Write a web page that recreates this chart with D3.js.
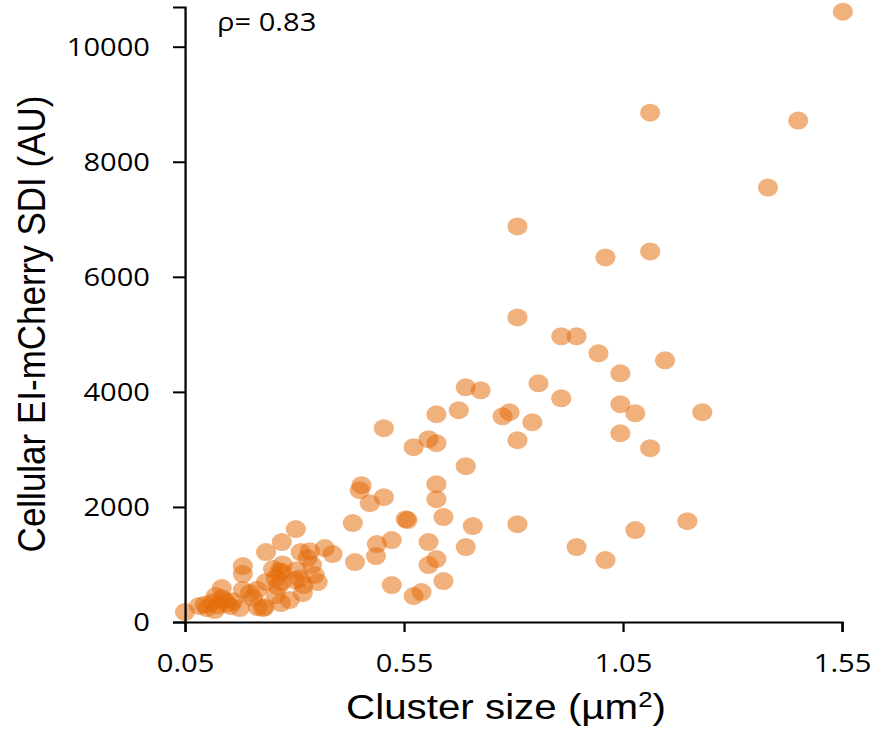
<!DOCTYPE html>
<html>
<head>
<meta charset="utf-8">
<script src="https://cdnjs.cloudflare.com/ajax/libs/d3/7.8.5/d3.min.js"></script>
<style>
  body { margin: 0; background: #fff; }
  svg { display: block; }
</style>
</head>
<body>
<div id="chart"></div>
<script>
// cluster size (um^2) and cellular EI-mCherry SDI (AU)
var clusterSize = [
  0.050, 0.082, 0.100, 0.118, 0.134, 0.134, 0.153, 0.182, 0.182, 0.182,
  0.198, 0.216, 0.235, 0.232, 0.251, 0.257, 0.257, 0.269, 0.271, 0.271,
  0.271, 0.289, 0.303, 0.314, 0.321, 0.330, 0.340, 0.346, 0.353, 0.369,
  0.387, 0.228, 0.175, 0.301, 0.319, 0.235,
  0.095, 0.112, 0.125, 0.140, 0.145, 0.160, 0.205, 0.215, 0.262, 0.266,
  0.273, 0.305, 0.312, 0.335, 0.120,
  0.433, 0.438, 0.449, 0.453, 0.472, 0.504, 0.504, 0.488, 0.486, 0.522,
  0.554, 0.558, 0.522, 0.572, 0.590, 0.572, 0.606, 0.624, 0.624, 0.624,
  0.624, 0.606, 0.606, 0.624, 0.640, 0.640, 0.675, 0.691, 0.691, 0.725,
  0.691, 0.707, 0.775, 0.791, 0.809, 0.809, 0.843, 0.857, 0.909, 0.909,
  0.944, 0.994, 1.044, 1.044, 1.078, 1.044, 1.112, 1.146, 1.231, 1.197,
  1.078, 0.944, 1.010, 0.809, 0.809, 1.010, 1.112, 1.112, 1.450, 1.381,
  1.552
];
var sdi = [
  174, 278, 243, 208, 590, 417, 278, 972, 833, 556,
  503, 260, 1215, 260, 920, 764, 469, 330, 1389, 868,
  694, 382, 1615, 1215, 642, 1111, 990, 816, 694, 1285,
  1180, 243, 243, 729, 503, 694,
  300, 340, 290, 380, 320, 360, 420, 560, 620, 880,
  1000, 900, 760, 1230, 450,
  1719, 1042, 2292, 2378, 2066, 2170, 3368, 1354, 1146, 1424,
  1788, 1771, 642, 451, 521, 3038, 3177, 3108, 3611, 2396,
  2135, 1389, 990, 1094, 1823, 712, 3681, 2708, 4080, 4028,
  1302, 1667, 3576, 3646, 3160, 1701, 3472, 4149, 3889, 4965,
  4965, 4670, 4323, 3785, 3628, 3281, 3021, 4549, 3646, 1753,
  1597, 1302, 1076, 6875, 5295, 6337, 6441, 8854, 8715, 7552,
  10608
];
var xTicks = [0.05, 0.55, 1.05, 1.55];
var yTicks = [0, 2000, 4000, 6000, 8000, 10000];
var rho = "ρ= 0.83";

var width = 876, height = 732;
var sx = 1.12; // the original figure is stretched sideways

var svg = d3.select("#chart").append("svg")
  .attr("width", width)
  .attr("height", height);

var g = svg.append("g").attr("transform", "scale(" + sx + ",1)");

var x = d3.scaleLinear().domain([0.05, 1.55]).range([185 / sx, 842 / sx]);
var y = d3.scaleLinear().domain([0, 10690]).range([622, 7]);

var points = clusterSize.map(function(d, i){ return {x: d, y: sdi[i]}; });

g.append("g")
  .selectAll("circle")
  .data(points)
  .enter()
  .append("circle")
  .attr("cx", function(d){ return x(d.x); })
  .attr("cy", function(d){ return y(d.y); })
  .attr("r", 9)
  .attr("fill", "#e46c0a")
  .attr("fill-opacity", 0.53);

var xAxis = g.append("g")
  .attr("transform", "translate(0,622)")
  .call(d3.axisBottom(x).tickValues(xTicks).tickFormat(d3.format(".2f"))
    .tickSizeOuter(0).tickSize(10).tickPadding(22));

var yAxis = g.append("g")
  .attr("transform", "translate(" + (185 / sx) + ",0)")
  .call(d3.axisLeft(y).tickValues(yTicks).tickFormat(d3.format("d"))
    .tickSizeOuter(0).tickSize(12 / sx).tickPadding(23 / sx));

[xAxis, yAxis].forEach(function(a){
  a.selectAll("path, line").attr("stroke", "#000").attr("stroke-width", 2);
  a.selectAll("text")
    .attr("fill", "#000")
    .style("font-family", "'Open Sans', sans-serif")
    .style("font-size", "26px");
});

g.append("text")
  .attr("x", 217 / sx)
  .attr("y", 31)
  .style("font-family", "'Open Sans', sans-serif")
  .style("font-size", "26px")
  .text(rho);

var xTitle = g.append("text")
  .attr("x", 506 / sx)
  .attr("y", 719)
  .attr("text-anchor", "middle")
  .style("font-family", "'Liberation Sans', Arial, sans-serif")
  .style("font-size", "36px");
xTitle.append("tspan").text("Cluster size (µm");
xTitle.append("tspan").attr("dy", -12).style("font-size", "23px").text("2");
xTitle.append("tspan").attr("dy", 12).text(")");

g.append("text")
  .attr("transform", "translate(" + (45 / sx) + ",324) rotate(-90)")
  .attr("text-anchor", "middle")
  .style("font-family", "'Liberation Sans', Arial, sans-serif")
  .style("font-size", "35px")
  .text("Cellular EI-mCherry SDI (AU)");
</script>
</body>
</html>
